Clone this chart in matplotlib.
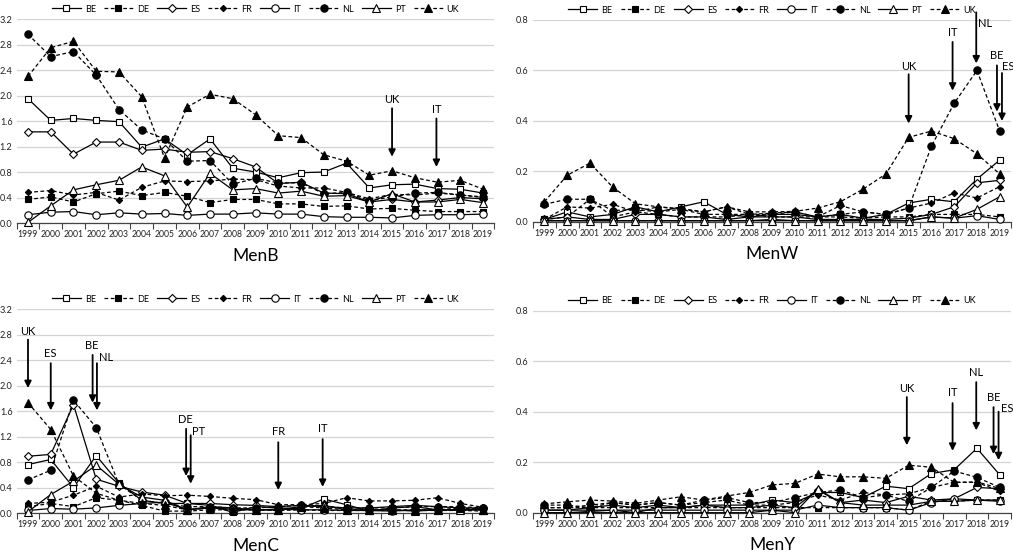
import matplotlib
matplotlib.use("Agg")
import matplotlib.pyplot as plt
import numpy as np

plt.rcParams["font.family"] = ["Lato", "DejaVu Sans"]

years = [str(y) for y in range(1999, 2020)]
countries = ["BE", "DE", "ES", "FR", "IT", "NL", "PT", "UK"]

# incidence per panel, one list per country
menb_be = [1.95, 1.61, 1.64, 1.61, 1.59, 1.19, 1.32, 1.07, 1.32, 0.86, 0.80, 0.71, 0.79, 0.80, 0.94, 0.55, 0.60, 0.61, 0.54, 0.53, 0.47]
menb_de = [0.37, 0.41, 0.33, 0.46, 0.50, 0.43, 0.48, 0.42, 0.32, 0.37, 0.37, 0.30, 0.30, 0.26, 0.27, 0.22, 0.23, 0.20, 0.18, 0.18, 0.18]
menb_es = [1.43, 1.43, 1.08, 1.27, 1.27, 1.14, 1.16, 1.11, 1.12, 1.01, 0.88, 0.62, 0.64, 0.47, 0.46, 0.33, 0.37, 0.33, 0.36, 0.40, 0.38]
menb_fr = [0.48, 0.51, 0.44, 0.48, 0.36, 0.56, 0.66, 0.65, 0.66, 0.69, 0.68, 0.58, 0.55, 0.55, 0.48, 0.38, 0.45, 0.44, 0.47, 0.44, 0.40]
menb_it = [0.13, 0.17, 0.18, 0.13, 0.16, 0.14, 0.15, 0.12, 0.14, 0.14, 0.16, 0.14, 0.14, 0.10, 0.09, 0.09, 0.08, 0.12, 0.13, 0.13, 0.14]
menb_nl = [2.96, 2.61, 2.69, 2.32, 1.78, 1.46, 1.32, 0.97, 0.98, 0.61, 0.70, 0.63, 0.63, 0.46, 0.48, 0.35, 0.41, 0.47, 0.48, 0.44, 0.41]
menb_pt = [0.01, 0.27, 0.52, 0.60, 0.67, 0.88, 0.74, 0.25, 0.78, 0.52, 0.54, 0.47, 0.50, 0.42, 0.43, 0.33, 0.46, 0.33, 0.33, 0.37, 0.32]
menb_uk = [2.30, 2.75, 2.85, 2.38, 2.37, 1.98, 1.02, 1.82, 2.02, 1.95, 1.70, 1.37, 1.34, 1.07, 0.97, 0.75, 0.82, 0.71, 0.64, 0.67, 0.53]

menw_be = [0.01, 0.04, 0.02, 0.03, 0.06, 0.04, 0.06, 0.08, 0.03, 0.02, 0.03, 0.03, 0.02, 0.03, 0.015, 0.03, 0.075, 0.09, 0.08, 0.17, 0.245]
menw_de = [0.01, 0.02, 0.09, 0.02, 0.04, 0.03, 0.02, 0.02, 0.02, 0.03, 0.02, 0.02, 0.02, 0.02, 0.015, 0.02, 0.02, 0.03, 0.03, 0.03, 0.02]
menw_es = [0.01, 0.02, 0.01, 0.01, 0.03, 0.03, 0.02, 0.02, 0.01, 0.02, 0.02, 0.02, 0.01, 0.01, 0.01, 0.01, 0.015, 0.03, 0.06, 0.155, 0.165]
menw_fr = [0.01, 0.06, 0.055, 0.07, 0.04, 0.06, 0.05, 0.04, 0.06, 0.03, 0.03, 0.04, 0.02, 0.065, 0.04, 0.03, 0.055, 0.075, 0.115, 0.095, 0.14]
menw_it = [0.005, 0.005, 0.005, 0.005, 0.005, 0.005, 0.005, 0.005, 0.005, 0.005, 0.01, 0.005, 0.005, 0.005, 0.005, 0.005, 0.005, 0.02, 0.015, 0.025, 0.01]
menw_nl = [0.07, 0.09, 0.09, 0.045, 0.05, 0.04, 0.05, 0.03, 0.03, 0.03, 0.035, 0.04, 0.02, 0.03, 0.04, 0.03, 0.055, 0.30, 0.47, 0.60, 0.36]
menw_pt = [0.005, 0.005, 0.005, 0.005, 0.005, 0.005, 0.005, 0.005, 0.005, 0.005, 0.005, 0.005, 0.005, 0.005, 0.005, 0.005, 0.005, 0.02, 0.015, 0.05, 0.10]
menw_uk = [0.08, 0.185, 0.233, 0.138, 0.072, 0.06, 0.053, 0.04, 0.06, 0.04, 0.04, 0.042, 0.055, 0.08, 0.13, 0.19, 0.335, 0.36, 0.33, 0.27, 0.19]

menc_be = [0.76, 0.84, 0.40, 0.90, 0.47, 0.20, 0.15, 0.15, 0.12, 0.01, 0.10, 0.08, 0.07, 0.22, 0.13, 0.03, 0.08, 0.10, 0.05, 0.05, 0.05]
menc_de = [0.10, 0.15, 0.10, 0.24, 0.20, 0.12, 0.03, 0.03, 0.05, 0.05, 0.05, 0.04, 0.05, 0.04, 0.04, 0.04, 0.04, 0.04, 0.04, 0.04, 0.03]
menc_es = [0.89, 0.92, 1.70, 0.53, 0.42, 0.33, 0.28, 0.15, 0.15, 0.13, 0.12, 0.10, 0.12, 0.10, 0.08, 0.08, 0.10, 0.12, 0.10, 0.08, 0.08]
menc_fr = [0.15, 0.17, 0.28, 0.42, 0.25, 0.30, 0.27, 0.28, 0.26, 0.23, 0.21, 0.13, 0.13, 0.15, 0.24, 0.19, 0.19, 0.20, 0.24, 0.15, 0.09]
menc_it = [0.04, 0.07, 0.06, 0.08, 0.12, 0.15, 0.17, 0.05, 0.08, 0.06, 0.05, 0.06, 0.05, 0.05, 0.04, 0.04, 0.03, 0.05, 0.05, 0.04, 0.08]
menc_nl = [0.52, 0.67, 1.77, 1.34, 0.45, 0.20, 0.15, 0.10, 0.10, 0.08, 0.08, 0.10, 0.12, 0.10, 0.08, 0.08, 0.08, 0.10, 0.10, 0.10, 0.08]
menc_pt = [0.02, 0.29, 0.50, 0.75, 0.45, 0.25, 0.20, 0.05, 0.10, 0.08, 0.05, 0.05, 0.10, 0.12, 0.05, 0.05, 0.05, 0.03, 0.05, 0.05, 0.05]
menc_uk = [1.73, 1.31, 0.58, 0.31, 0.20, 0.15, 0.12, 0.05, 0.08, 0.05, 0.05, 0.04, 0.10, 0.08, 0.05, 0.05, 0.05, 0.05, 0.05, 0.08, 0.05]

meny_be = [0.0, 0.0, 0.005, 0.01, 0.0, 0.02, 0.02, 0.03, 0.03, 0.03, 0.05, 0.04, 0.08, 0.08, 0.06, 0.105, 0.095, 0.155, 0.17, 0.255, 0.15]
meny_de = [0.02, 0.02, 0.02, 0.02, 0.02, 0.02, 0.02, 0.02, 0.02, 0.02, 0.02, 0.02, 0.02, 0.02, 0.02, 0.02, 0.01, 0.045, 0.045, 0.05, 0.05]
meny_es = [0.01, 0.01, 0.02, 0.03, 0.02, 0.03, 0.02, 0.03, 0.02, 0.02, 0.03, 0.02, 0.09, 0.04, 0.05, 0.04, 0.065, 0.05, 0.055, 0.10, 0.095]
meny_fr = [0.02, 0.02, 0.03, 0.04, 0.03, 0.04, 0.03, 0.04, 0.05, 0.03, 0.03, 0.04, 0.07, 0.05, 0.08, 0.07, 0.075, 0.10, 0.12, 0.12, 0.085]
meny_it = [0.01, 0.01, 0.01, 0.01, 0.01, 0.01, 0.01, 0.01, 0.01, 0.01, 0.01, 0.01, 0.03, 0.02, 0.02, 0.02, 0.01, 0.04, 0.055, 0.05, 0.045]
meny_nl = [0.03, 0.03, 0.02, 0.04, 0.03, 0.04, 0.03, 0.05, 0.06, 0.04, 0.04, 0.06, 0.08, 0.09, 0.06, 0.07, 0.045, 0.10, 0.165, 0.14, 0.10]
meny_pt = [0.0, 0.0, 0.0, 0.0, 0.0, 0.0, 0.0, 0.0, 0.0, 0.0, 0.01, 0.0, 0.095, 0.04, 0.03, 0.03, 0.03, 0.045, 0.045, 0.05, 0.05]
meny_uk = [0.035, 0.043, 0.05, 0.046, 0.037, 0.05, 0.063, 0.05, 0.066, 0.08, 0.11, 0.116, 0.153, 0.142, 0.142, 0.136, 0.188, 0.18, 0.12, 0.122, 0.096]

# arrows: (label, x index, tail y, tip y, text x, text y, text align)
menb_arrows = [("UK", 16.0, 1.80, 1.04, 16.0, 1.93, "center"),
               ("IT", 17.95, 1.64, 0.88, 17.95, 1.78, "center")]
menw_arrows = [("UK", 16.0, 0.585, 0.39, 16.0, 0.614, "center"),
               ("IT", 17.93, 0.713, 0.52, 17.93, 0.75, "center"),
               ("NL", 18.97, 0.83, 0.628, 19.06, 0.786, "left"),
               ("BE", 19.88, 0.62, 0.437, 19.88, 0.66, "center"),
               ("ES", 20.1, 0.59, 0.40, 20.12, 0.614, "left")]
menc_arrows = [("UK", 0.0, 2.72, 1.96, 0.0, 2.85, "center"),
               ("ES", 1.0, 2.35, 1.61, 1.0, 2.51, "center"),
               ("BE", 2.84, 2.48, 1.73, 2.8, 2.62, "center"),
               ("NL", 3.03, 2.35, 1.61, 3.1, 2.44, "left"),
               ("DE", 6.95, 1.32, 0.58, 6.9, 1.47, "center"),
               ("PT", 7.15, 1.22, 0.46, 7.22, 1.28, "left"),
               ("FR", 11.0, 1.11, 0.36, 11.0, 1.28, "center"),
               ("IT", 12.95, 1.16, 0.41, 12.95, 1.32, "center")]
meny_arrows = [("UK", 15.92, 0.458, 0.267, 15.92, 0.49, "center"),
               ("IT", 17.93, 0.434, 0.245, 17.93, 0.474, "center"),
               ("NL", 18.97, 0.517, 0.326, 18.97, 0.557, "center"),
               ("BE", 19.73, 0.418, 0.232, 19.73, 0.458, "center"),
               ("ES", 19.95, 0.40, 0.208, 20.05, 0.414, "left")]

styles = {
    "BE": dict(marker="s", mfc="white", ms=5, ls="-"),
    "DE": dict(marker="s", mfc="black", ms=5, ls=(0, (3, 2))),
    "ES": dict(marker="D", mfc="white", ms=3.8, ls="-"),
    "FR": dict(marker="D", mfc="black", ms=3.2, ls=(0, (3, 2))),
    "IT": dict(marker="o", mfc="white", ms=5.3, ls="-"),
    "NL": dict(marker="o", mfc="black", ms=5.3, ls=(0, (3, 2))),
    "PT": dict(marker="^", mfc="white", ms=5.3, ls="-"),
    "UK": dict(marker="^", mfc="black", ms=5.3, ls=(0, (3, 2))),
}


def draw_panel(ax, series, ymax, step, title, arrows):
    x = np.arange(len(years))
    for name, vals in zip(countries, series):
        st = styles[name]
        ax.plot(x, vals, color="black", lw=0.9, ls=st["ls"], marker=st["marker"],
                ms=st["ms"], mfc=st["mfc"], mec="black", mew=0.8, label=name,
                clip_on=False, zorder=3)
    ax.set_xlim(-0.5, len(years) - 0.5)
    ax.set_ylim(0, ymax)
    yt = np.arange(0, ymax + step / 2, step)
    ax.set_yticks(yt)
    ax.set_yticklabels([f"{v:.1f}" for v in yt])
    ax.set_xticks(x)
    ax.set_xticklabels(years)
    ax.set_xticks(np.arange(-0.5, len(years)), minor=True)
    ax.tick_params(axis="x", which="major", length=0, labelsize=6.2, pad=5, colors="#222222")
    ax.tick_params(axis="x", which="minor", length=4, width=0.8, color="#444444")
    ax.tick_params(axis="y", length=0, labelsize=6.6, pad=3, colors="#222222")
    ax.grid(axis="y", color="#d4d4d4", lw=0.9)
    ax.set_axisbelow(True)
    for s in ["top", "right", "left"]:
        ax.spines[s].set_visible(False)
    ax.spines["bottom"].set_color("#444444")
    ax.spines["bottom"].set_linewidth(0.9)
    ax.legend(ncol=8, loc="lower center", bbox_to_anchor=(0.5, 1.0), frameon=False,
              fontsize=6.5, handlelength=3.2, handletextpad=0.45, columnspacing=0.9,
              borderaxespad=0.2)
    ax.set_title(title, y=-0.225, fontsize=12.5)
    for label, ax_x, tail, tip, tx, ty, ha in arrows:
        ax.annotate("", xy=(ax_x, tip), xytext=(ax_x, tail), annotation_clip=False,
                    arrowprops=dict(arrowstyle="-|>", color="black", lw=1.3,
                                    mutation_scale=10, shrinkA=0, shrinkB=0))
        ax.text(tx, ty, label, ha=ha, va="center", fontsize=8, clip_on=False)


fig = plt.figure(figsize=(10.13, 5.53), dpi=100)
ax1 = fig.add_axes([0.0164, 0.5967, 0.4717, 0.3689])
ax2 = fig.add_axes([0.5262, 0.5986, 0.4719, 0.3653])
ax3 = fig.add_axes([0.0164, 0.0723, 0.4717, 0.3689])
ax4 = fig.add_axes([0.5262, 0.0729, 0.4719, 0.3653])

draw_panel(ax1, [menb_be, menb_de, menb_es, menb_fr, menb_it, menb_nl, menb_pt, menb_uk],
           3.2, 0.4, "MenB", menb_arrows)
draw_panel(ax2, [menw_be, menw_de, menw_es, menw_fr, menw_it, menw_nl, menw_pt, menw_uk],
           0.8, 0.2, "MenW", menw_arrows)
draw_panel(ax3, [menc_be, menc_de, menc_es, menc_fr, menc_it, menc_nl, menc_pt, menc_uk],
           3.2, 0.4, "MenC", menc_arrows)
draw_panel(ax4, [meny_be, meny_de, meny_es, meny_fr, meny_it, meny_nl, meny_pt, meny_uk],
           0.8, 0.2, "MenY", meny_arrows)

plt.savefig("out.png", dpi=100)
